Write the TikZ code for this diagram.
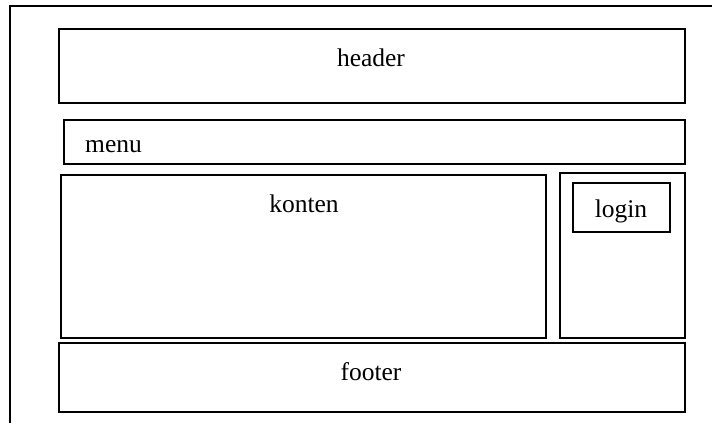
\documentclass[tikz,border=0pt]{standalone}
\usepackage{fontspec}
\setmainfont{Liberation Serif}
\begin{document}
\begin{tikzpicture}[x=1pt,y=-1pt,
  box/.style={draw=black,line width=1.1pt,inner sep=0pt,outer sep=0pt,anchor=north west},
  lbl/.style={inner sep=0pt,anchor=base,font=\fontsize{25.5}{30}\selectfont}]
\useasboundingbox (0,0) rectangle (712,425);
% outer frame
\coordinate (tl) at (10,6);
\coordinate (tr) at (712,6);
\coordinate (bl) at (10,423);
\draw[line width=1.1pt] (tr) -- (tl) -- (bl);
% boxes
\node[box,minimum width=626pt,minimum height=74pt] (header) at (59,29) {};
\node[box,minimum width=621pt,minimum height=44pt] (menu) at (64,120) {};
\node[box,minimum width=485pt,minimum height=163pt] (konten) at (61,175) {};
\node[box,minimum width=125pt,minimum height=165pt] (side) at (560,173) {};
\node[box,minimum width=97pt,minimum height=49pt] (login) at (573,183) {};
\node[box,minimum width=626pt,minimum height=69pt] (footer) at (59,343) {};
% labels
\node[lbl] (theader) at (371,67) {header};
\node[lbl,anchor=base west] (tmenu) at (85,153) {menu};
\node[lbl] (tkonten) at (304,212) {konten};
\node[lbl] (tlogin) at (621,217) {login};
\node[lbl] (tfooter) at (371,380) {footer};
\end{tikzpicture}
\end{document}
